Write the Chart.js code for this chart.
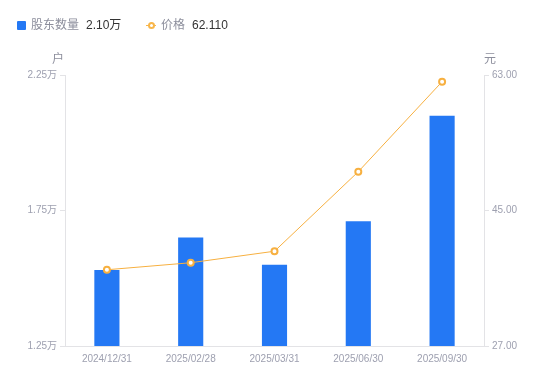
<!DOCTYPE html>
<html><head><meta charset="utf-8">
<script src="https://cdn.jsdelivr.net/npm/chart.js@4/dist/chart.umd.min.js"></script>
<style>
html,body{margin:0;padding:0;background:#fff;}
#wrap{position:relative;width:550px;height:381px;font-family:"Liberation Sans","Noto Sans CJK SC",sans-serif;}
canvas{position:absolute;left:0;top:0;}
.lg{position:absolute;top:17px;font-size:12px;line-height:16px;white-space:nowrap;}
.lg .n{color:#8c8e9c;}
.lg .v{color:#333;margin-left:7px;}
.sq{position:absolute;left:17px;top:21px;width:9px;height:9px;background:#2478f4;border-radius:1px;}
.ln{position:absolute;left:146px;top:25px;width:10px;height:1px;background:#f8b64a;}
.ci{position:absolute;left:148px;top:22px;width:3px;height:3px;border:2px solid #f8b64a;border-radius:50%;background:#fff;}
.at{position:absolute;top:49px;font-size:12px;color:#8c8e9c;}
</style></head>
<body><div id="wrap">
<canvas id="c" width="550" height="381"></canvas>
<div class="sq"></div><div class="lg" style="left:31px"><span class="n">股东数量</span><span class="v">2.10万</span></div>
<div class="ln"></div><div class="ci"></div><div class="lg" style="left:161px"><span class="n">价格</span><span class="v">62.110</span></div>
<div class="at" style="left:52px">户</div>
<div class="at" style="left:484px">元</div>
</div>
<script>
const categories = ['2024/12/31','2025/02/28','2025/03/31','2025/06/30','2025/09/30'];
const holders = [1.53, 1.65, 1.55, 1.71, 2.10];   // 万户
const prices = [37.13, 38.06, 39.59, 50.16, 62.11]; // 元
const leftTicks = [1.25, 1.75, 2.25];
const rightTicks = [27, 45, 63];

const tickColor = '#9ea0b0';
const axisColor = '#e3e3e6';
const font = {family: '"Liberation Sans","Noto Sans CJK SC",sans-serif', size: 10};

new Chart(document.getElementById('c'), {
  data: {
    labels: categories,
    datasets: [
      {type:'line', label:'价格', data: prices, yAxisID:'y1', order:0,
       borderColor:'#f7b040', borderWidth:1, tension:0,
       pointRadius:3, pointBorderWidth:2, pointBackgroundColor:'#fff', pointBorderColor:'#f7b040'},
      {type:'bar', label:'股东数量', data: holders, yAxisID:'y', order:1,
       backgroundColor:'#2478f4', categoryPercentage:1, barPercentage:0.3}
    ]
  },
  options: {
    responsive:false, animation:false,
    layout:{padding:{top:75, left:0, right:0, bottom:0}},
    plugins:{legend:{display:false}, tooltip:{enabled:false}},
    scales:{
      x:{
        grid:{display:false, drawTicks:false},
        border:{display:true, color:axisColor},
        ticks:{color:tickColor, font, padding:7, maxRotation:0},
        afterFit(s){ s.height = 35; }
      },
      y:{
        position:'left', min:1.25, max:2.25,
        afterBuildTicks(s){ s.ticks = leftTicks.map(v=>({value:v})); },
        grid:{drawOnChartArea:false, drawTicks:true, tickLength:5, color:axisColor},
        border:{display:true, color:axisColor},
        ticks:{color:tickColor, font, padding:3, callback:v=>v.toFixed(2)+'万'},
        afterFit(s){ s.width = 65; }
      },
      y1:{
        position:'right', min:27, max:63,
        afterBuildTicks(s){ s.ticks = rightTicks.map(v=>({value:v})); },
        grid:{drawOnChartArea:false, drawTicks:true, tickLength:5, color:axisColor},
        border:{display:true, color:axisColor},
        ticks:{color:tickColor, font, padding:3, callback:v=>v.toFixed(2)},
        afterFit(s){ s.width = 66; }
      }
    }
  }
});
</script>
</body></html>
